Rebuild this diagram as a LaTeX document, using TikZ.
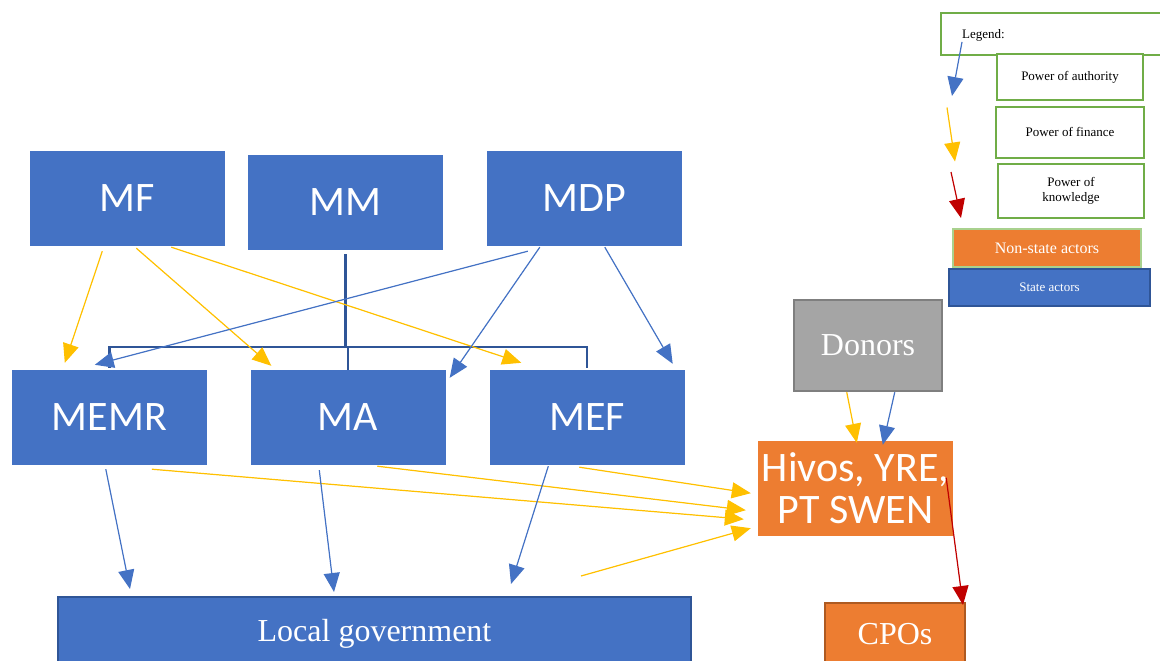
\documentclass[tikz,border=0pt]{standalone}
\usepackage{fontspec}
\setmainfont{Liberation Serif}
\newfontfamily\calib{Carlito}
\usetikzlibrary{arrows.meta}
\definecolor{cblue}{HTML}{4472C4}
\definecolor{dblue}{HTML}{2F5597}
\definecolor{corange}{HTML}{ED7D31}
\definecolor{dorange}{HTML}{AE5A21}
\definecolor{cgray}{HTML}{A5A5A5}
\definecolor{dgray}{HTML}{7F7F7F}
\definecolor{cyellow}{HTML}{FFC000}
\definecolor{cred}{HTML}{C00000}
\definecolor{cgreen}{HTML}{70AD47}
\definecolor{lgreen}{HTML}{A9D18E}
\tikzset{
  minbox/.style={fill=cblue, draw=none, minimum width=195pt, minimum height=95pt, inner sep=0pt, text=white, font=\calib\fontsize{42}{46}\selectfont},
  hbox/.style={fill=corange, draw=none, minimum width=195pt, minimum height=95pt, inner sep=0pt, text=white, align=center, font=\calib\fontsize{42}{45}\selectfont},
  serifbox/.style={inner sep=0pt, text=white, font=\fontsize{32}{36}\selectfont},
  legbox/.style={draw=cgreen, line width=2pt, fill=white, inner sep=0pt, align=center, font=\fontsize{13}{16}\selectfont},
  tree/.style={draw=dblue, line width=2.5pt},
  bigtip/.style={-{Triangle[length=19pt,width=16pt]}},
  auth/.style={draw=cblue, line width=1.2pt, bigtip, fill=cblue},
  fin/.style={draw=cyellow, line width=1.2pt, bigtip, fill=cyellow},
  know/.style={draw=cred, line width=1.2pt, bigtip, fill=cred},
}
\begin{document}
\begin{tikzpicture}[x=1pt,y=-1pt]
\useasboundingbox (0,0) rectangle (1160,661);
% ministries
\node[minbox] (MF) at (127,198.5) {MF};
\node[minbox] (MM) at (345.5,202.5) {MM};
\node[minbox] (MDP) at (584.5,198.5) {MDP};
\node[minbox] (MEMR) at (109.5,417.5) {MEMR};
\node[minbox] (MA) at (348,417.5) {MA};
\node[minbox] (MEF) at (587,417.5) {MEF};
\node[serifbox, fill=cblue, draw=dblue, line width=2pt, minimum width=633pt, minimum height=74pt] (LG) at (374.5,634) {Local government};
% non-state
\node[serifbox, fill=cgray, draw=dgray, line width=2.5pt, minimum width=148pt, minimum height=91pt] (DON) at (868,345.5) {Donors};
\node[hbox] (HIV) at (855.5,488.5) {Hivos, YRE,\\[-3pt]PT SWEN};
\node[serifbox, fill=corange, draw=dorange, line width=2pt, minimum width=140pt, minimum height=62pt] (CPO) at (895,634) {CPOs};
% legend
\node[legbox, minimum width=236pt, minimum height=42pt] (LEG) at (1059,34) {};
\node[font=\fontsize{13}{16}\selectfont, anchor=west, inner sep=0pt] (LEGT) at (962,35) {Legend:};
\node[legbox, minimum width=146pt, minimum height=46pt] (PA) at (1070,77) {Power of authority};
\node[legbox, minimum width=148pt, minimum height=51pt] (PF) at (1070,132) {Power of finance};
\node[legbox, minimum width=146pt, minimum height=54pt] (PK) at (1071,191) {Power of\\[-1pt]knowledge};
\node[serifbox, fill=corange, draw=lgreen, line width=2pt, minimum width=188pt, minimum height=38pt, font=\fontsize{16}{19}\selectfont] (NSA) at (1047,248) {Non-state actors};
\node[serifbox, fill=cblue, draw=dblue, line width=2pt, minimum width=201pt, minimum height=37pt, font=\fontsize{13}{16}\selectfont] (SA) at (1049.5,287) {State actors};
\draw[auth] ([shift={(-34,-11)}]PA.north west) -- ([shift={(-44,-5)}]PA.south west);
\draw[fin] ([shift={(-48,2)}]PF.north west) -- ([shift={(-40,3)}]PF.south west);
\draw[know] ([shift={(-46,9)}]PK.north west) -- ([shift={(-36,-1)}]PK.south west);
% hierarchy tree
\coordinate (bar) at (345,347);
\draw[tree] ([yshift=-4pt]MM.south) -- (MM.south |- bar);
\draw[tree] ([yshift=2pt]MEMR.north) |- (bar) -| ([yshift=2pt]MEF.north);
\draw[tree] ([yshift=0pt]MA.north) -- (MA.north |- bar);
% finance arrows
\draw[fin] ([shift={(73,5)}]MF.south west) -- ([shift={(53,-7)}]MEMR.north west);
\draw[fin] ([shift={(107,2)}]MF.south west) -- ([shift={(21,-4)}]MA.north west);
\draw[fin] ([shift={(142,1)}]MF.south west) -- ([shift={(32,-7)}]MEF.north west);
\draw[fin] ([shift={(140,4)}]MEMR.south west) -- ([shift={(-14,-17)}]HIV.south west);
\draw[fin] ([shift={(127,1)}]MA.south west) -- ([shift={(-12,-26)}]HIV.south west);
\draw[fin] ([shift={(90,2)}]MEF.south west) -- ([shift={(-7,-43)}]HIV.south west);
\draw[fin] ([shift={(524,-20)}]LG.north west) -- ([shift={(-7,-8)}]HIV.south west);
\draw[fin] ([shift={(54,0)}]DON.south west) -- ([shift={(99,2)}]HIV.north west);
% authority arrows
\draw[auth] ([shift={(41,5)}]MDP.south west) -- ([shift={(83,-5)}]MEMR.north west);
\draw[auth] ([shift={(53,1)}]MDP.south west) -- ([shift={(4,8)}]MA.north east);
\draw[auth] ([shift={(118,1)}]MDP.south west) -- ([shift={(-12,-6)}]MEF.north east);
\draw[auth] ([shift={(94,4)}]MEMR.south west) -- ([shift={(73,-7)}]LG.north west);
\draw[auth] ([shift={(69,5)}]MA.south west) -- ([shift={(277,-4)}]LG.north west);
\draw[auth] ([shift={(59,1)}]MEF.south west) -- ([shift={(454,-12)}]LG.north west);
\draw[auth] ([shift={(102,0)}]DON.south west) -- ([shift={(125,4)}]HIV.north west);
% knowledge arrow
\draw[know] ([shift={(-7,37)}]HIV.north east) -- ([shift={(-3,3)}]CPO.north east);
\end{tikzpicture}
\end{document}
